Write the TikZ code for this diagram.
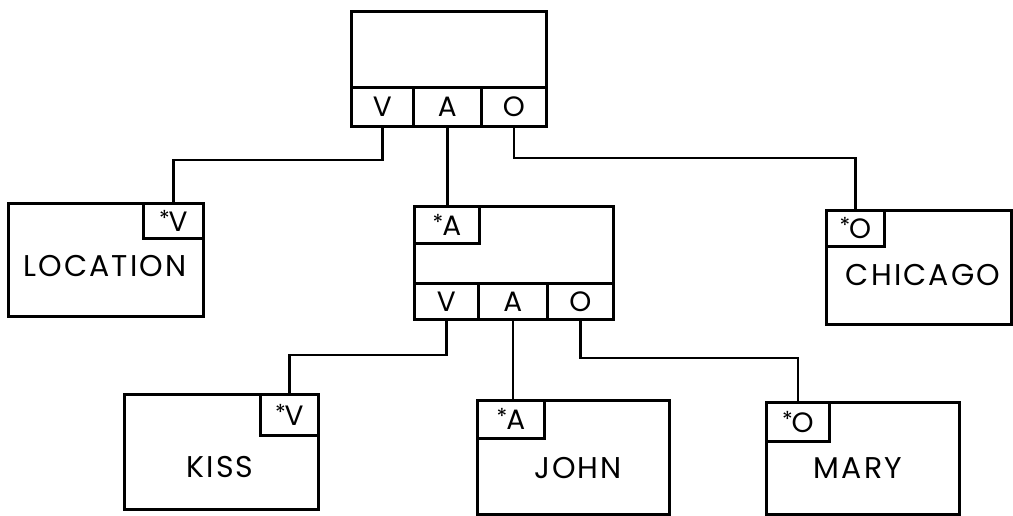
\documentclass[tikz,border=0pt]{standalone}
\usepackage{fontspec}
\setmainfont{Poppins}
\newfontfamily\lblfont[LetterSpace=7]{Poppins}
\begin{document}
\begin{tikzpicture}[x=1pt,y=-1pt,line width=2.7pt,
  box/.style={draw,rectangle,inner sep=0pt,anchor=north west},
  cell/.style={draw,rectangle,inner sep=0pt,anchor=north west,font=\fontsize{28}{28}\selectfont},
  lbl/.style={inner sep=0pt,font=\lblfont\fontsize{30}{30}\selectfont},
  wire/.style={line width=2.7pt}]
\newcommand{\st}{\raisebox{5pt}{\fontsize{22}{22}\selectfont *}\kern-1pt}
\useasboundingbox (0,0) rectangle (1013,516);
% top box
\node[box,minimum width=195pt,minimum height=115pt] (top) at (350,10) {};
\node[cell,minimum width=62pt,minimum height=39pt] (tV) at (350,86) {V};
\node[cell,minimum width=68pt,minimum height=39pt] (tA) at (412,86) {A};
\node[cell,minimum width=65pt,minimum height=39pt] (tO) at (480,86) {O};
% LOCATION
\node[box,minimum width=195pt,minimum height=113pt] (loc) at (7,202) {};
\node[cell,minimum width=60pt,minimum height=35pt] (locV) at (142,202) {\st V};
\node[lbl] (locT) at (105,266) {LOCATION};
% middle box
\node[box,minimum width=199pt,minimum height=113pt] (mid) at (413,205) {};
\node[cell,minimum width=65pt,minimum height=37pt] (midS) at (413,205) {\st A};
\node[cell,minimum width=64pt,minimum height=36pt] (mV) at (413,282) {V};
\node[cell,minimum width=69pt,minimum height=36pt] (mA) at (477,282) {A};
\node[cell,minimum width=66pt,minimum height=36pt] (mO) at (546,282) {O};
% CHICAGO
\node[box,minimum width=185pt,minimum height=114pt] (chi) at (825,209) {};
\node[cell,minimum width=58pt,minimum height=36pt] (chiO) at (825,209) {\st O};
\node[lbl] (chiT) at (923,275) {CHICAGO};
% KISS
\node[box,minimum width=194pt,minimum height=115pt] (kiss) at (123,393) {};
\node[cell,minimum width=58pt,minimum height=41pt] (kissV) at (259,393) {\st V};
\node[lbl] (kissT) at (220,467) {KISS};
% JOHN
\node[box,minimum width=192pt,minimum height=114pt] (john) at (476,399) {};
\node[cell,minimum width=67pt,minimum height=38pt] (johnA) at (476,399) {\st A};
\node[lbl] (johnT) at (578,468) {JOHN};
% MARY
\node[box,minimum width=193pt,minimum height=112pt] (mary) at (765,401) {};
\node[cell,minimum width=63pt,minimum height=39pt] (maryO) at (765,401) {\st O};
\node[lbl] (maryT) at (858,468) {MARY};
% connectors
\draw[wire] (tV.south) -- (tV.south |- 0,160) -| (locV.north);
\draw[wire] (tA.south) -- (tA.south |- midS.north);
\draw[wire] (tO.south) -- (tO.south |- 0,158) -| (chiO.north);
\draw[wire] (mV.south) -- (mV.south |- 0,355) -| (kissV.north);
\draw[wire] (mA.south) -- (mA.south |- johnA.north);
\draw[wire] (mO.south) -- (mO.south |- 0,358) -| (maryO.north);
\end{tikzpicture}
\end{document}
